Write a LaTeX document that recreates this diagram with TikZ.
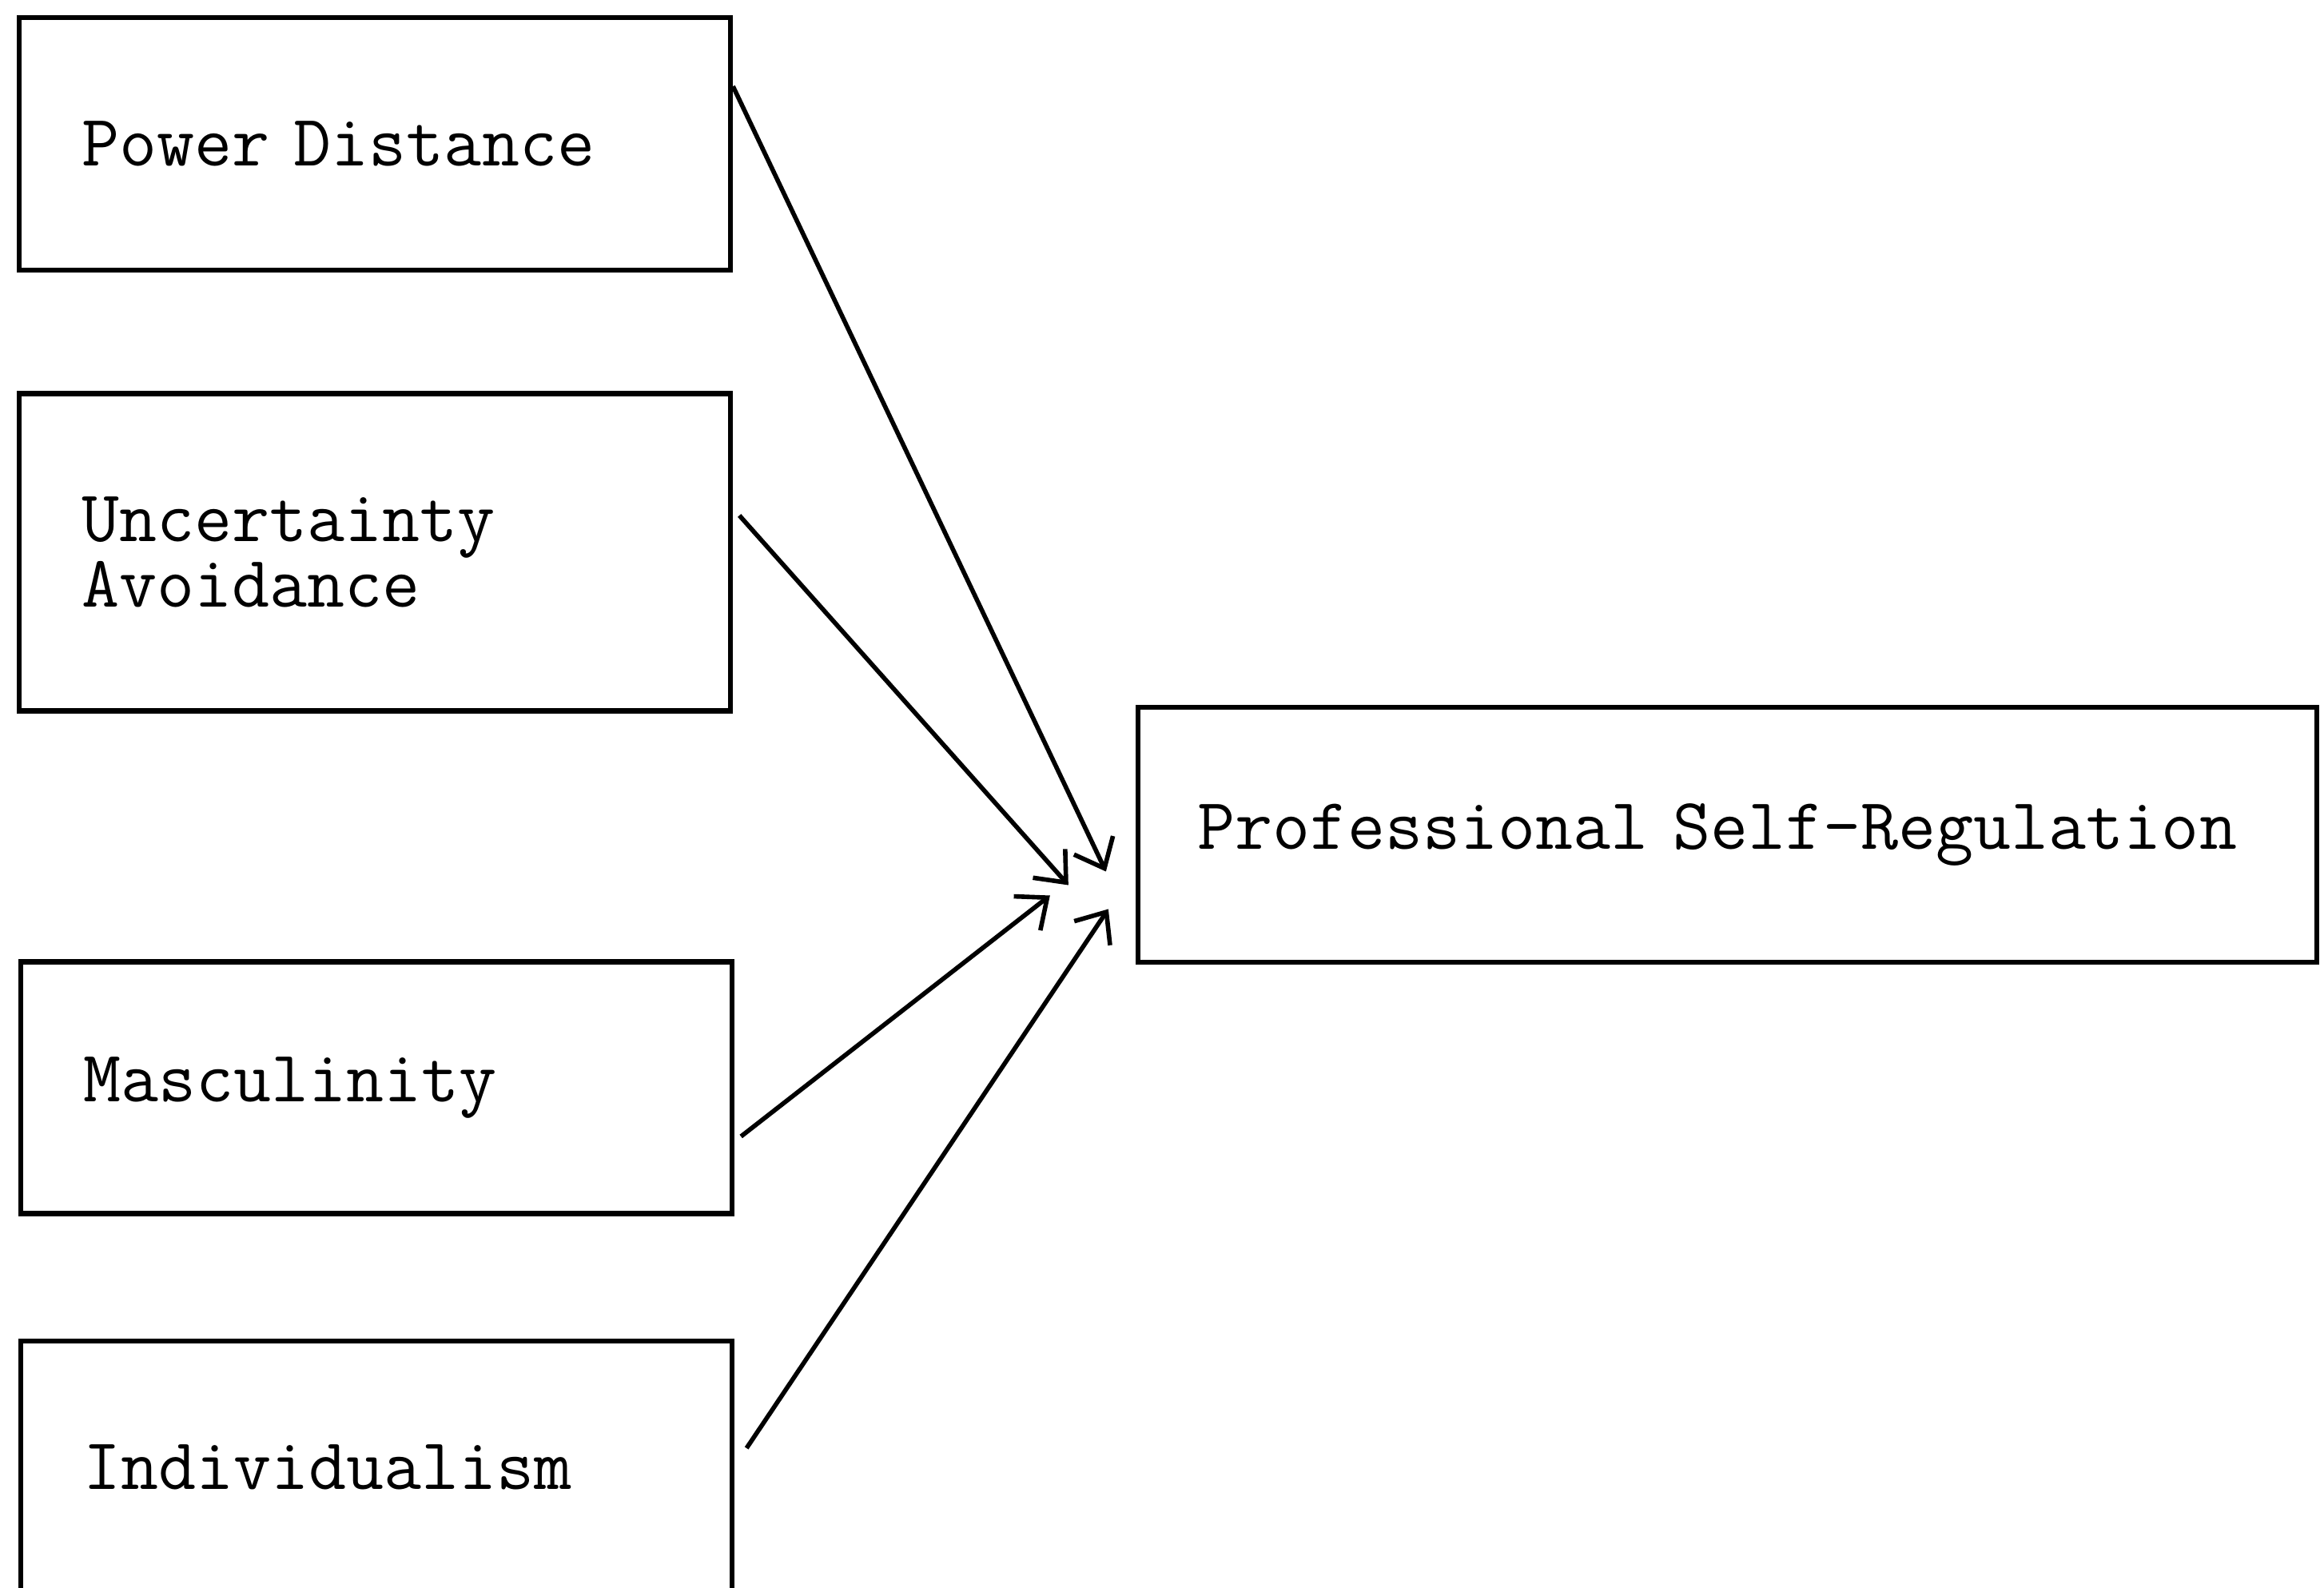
\documentclass[tikz,border=0pt]{standalone}
\usetikzlibrary{arrows.meta}
\begin{document}
\begin{tikzpicture}[
  factor/.style={draw, line width=1.8pt, minimum width=8.9cm, text width=7.34cm,
    inner xsep=0.78cm, align=left, font=\fontsize{26}{22}\selectfont\ttfamily},
  effect/.style={line width=1.6pt, -{Straight Barb[length=3.2mm,width=5.4mm,line width=1.6pt]}}
]
\useasboundingbox (0,0) rectangle (29.08,19.86);

% Kulturdimensionen
\node[factor, minimum height=3.16cm] (pd) at (4.69, 18.06) {Power Distance};
\node[factor, minimum height=3.97cm] (ua) at (4.69, 12.95) {Uncertainty\\Avoidance};
\node[factor, minimum height=3.15cm] (masc) at (4.71, 6.25) {Masculinity};
\node[factor, minimum height=3.16cm] (ind) at (4.71, 1.50) {Individualism};

% Zielgroesse
\node[factor, minimum width=14.75cm, text width=13.27cm, inner xsep=0.74cm,
  minimum height=3.19cm] (psr) at (21.615, 9.415) {Professional Self-Regulation};

% Pfeilspitzen vor der Zielbox
\coordinate (tippd) at ([shift={(-0.37,-0.46)}]psr.west);
\coordinate (tipua) at ([shift={(-0.84,-0.63)}]psr.west);
\coordinate (tipmasc) at ([shift={(-1.07,-0.76)}]psr.west);
\coordinate (tipind) at ([shift={(-0.34,-0.93)}]psr.west);

% Einfluesse
\draw[effect] ([yshift=7.2mm]pd.east) -- (tippd);
\draw[effect] ([shift={(0.08,0.46)}]ua.east) -- (tipua);
\draw[effect] ([shift={(0.08,-0.61)}]masc.east) -- (tipmasc);
\draw[effect] ([shift={(0.15,0.24)}]ind.east) -- (tipind);
\end{tikzpicture}
\end{document}
